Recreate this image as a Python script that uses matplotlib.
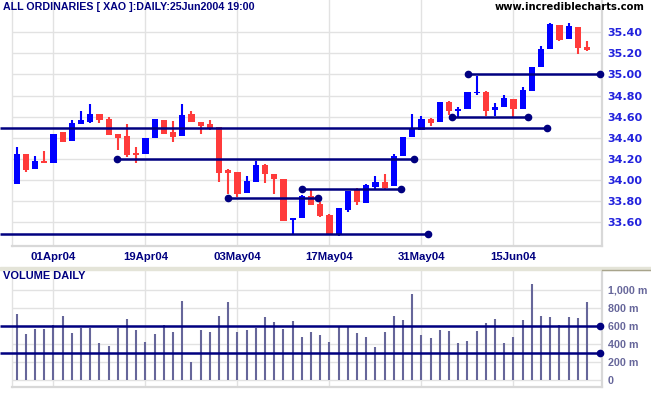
import numpy as np
import matplotlib.pyplot as plt

# daily OHLC, 26 Mar 2004 .. 25 Jun 2004 (trading days)
opens = [33.96, 34.25, 34.10, 34.18, 34.16, 34.45, 34.37, 34.53, 34.55, 34.63,
         34.58, 34.44, 34.42, 34.26, 34.25, 34.40, 34.57, 34.45, 34.42, 34.63,
         34.55, 34.53, 34.50, 34.09, 34.08, 33.88, 33.98, 34.14, 34.06, 34.01,
         33.62, 33.64, 33.85, 33.77, 33.67, 33.48, 33.72, 33.91, 33.78, 33.93,
         33.98, 33.94, 34.23, 34.41, 34.47, 34.58, 34.55, 34.74, 34.65, 34.67,
         34.82, 34.83, 34.66, 34.69, 34.77, 34.67, 34.84, 35.07, 35.24, 35.47,
         35.34, 35.45, 35.26]
highs = [34.31, 34.25, 34.23, 34.27, 34.44, 34.45, 34.57, 34.65, 34.72, 34.63,
         34.60, 34.44, 34.53, 34.31, 34.40, 34.58, 34.57, 34.56, 34.72, 34.65,
         34.55, 34.57, 34.50, 34.10, 34.08, 34.04, 34.18, 34.15, 34.06, 34.01,
         33.63, 33.86, 33.91, 33.79, 33.68, 33.73, 33.90, 33.92, 33.96, 34.04,
         34.06, 34.25, 34.41, 34.63, 34.61, 34.59, 34.74, 34.75, 34.69, 34.83,
         34.99, 34.84, 34.73, 34.81, 34.77, 34.88, 35.07, 35.27, 35.49, 35.47,
         35.49, 35.45, 35.32]
lows = [33.96, 34.08, 34.10, 34.16, 34.16, 34.36, 34.37, 34.53, 34.54, 34.54,
        34.43, 34.28, 34.22, 34.16, 34.25, 34.40, 34.44, 34.36, 34.42, 34.55,
        34.44, 34.47, 33.98, 33.87, 33.84, 33.88, 33.98, 33.97, 33.87, 33.61,
        33.49, 33.64, 33.76, 33.65, 33.49, 33.47, 33.70, 33.76, 33.78, 33.91,
        33.91, 33.94, 34.23, 34.41, 34.47, 34.51, 34.55, 34.62, 34.60, 34.67,
        34.81, 34.61, 34.61, 34.69, 34.59, 34.67, 34.84, 35.07, 35.24, 35.32,
        35.34, 35.19, 35.22]
closes = [34.25, 34.09, 34.18, 34.16, 34.44, 34.36, 34.54, 34.57, 34.63, 34.57,
          34.43, 34.40, 34.24, 34.24, 34.40, 34.58, 34.44, 34.41, 34.62, 34.55,
          34.51, 34.49, 34.07, 34.07, 33.87, 33.99, 34.14, 34.06, 34.01, 33.61,
          33.63, 33.85, 33.76, 33.66, 33.49, 33.73, 33.90, 33.79, 33.95, 33.98,
          33.92, 34.23, 34.41, 34.48, 34.58, 34.54, 34.74, 34.65, 34.67, 34.83,
          34.83, 34.65, 34.69, 34.78, 34.67, 34.85, 35.07, 35.24, 35.48, 35.33,
          35.46, 35.25, 35.23]
# volume in millions
volume = [728, 506, 561, 561, 610, 706, 517, 572, 572, 406,
          372, 572, 672, 550, 417, 506, 606, 531, 872, 194,
          550, 528, 706, 861, 528, 550, 572, 694, 639, 561,
          650, 472, 528, 494, 420, 583, 583, 517, 472, 361,
          528, 706, 661, 950, 494, 461, 550, 539, 406, 428,
          539, 628, 672, 406, 472, 661, 1061, 706, 694, 606,
          694, 683, 861]

tick_idx = [4, 14, 24, 34, 44, 54]
tick_labels = ['01Apr04', '19Apr04', '03May04', '17May04', '31May04', '15Jun04']
price_ticks = [33.6, 33.8, 34.0, 34.2, 34.4, 34.6, 34.8, 35.0, 35.2, 35.4]
vol_ticks = [0, 200, 400, 600, 800, 1000]
vol_tick_labels = ['0', '200 m', '400 m', '600 m', '800 m', '1,000 m']

# support / resistance lines drawn on the chart
sr_level = [34.49, 34.20, 33.83, 33.91, 33.49, 34.60, 35.00]
sr_start = [-1.8, 10.9, 23.0, 31.0, -1.8, 47.3, 49.1]
sr_end = [57.6, 43.2, 32.8, 41.8, 44.7, 55.6, 63.4]
sr_dot_left = [False, True, True, True, False, True, True]
vol_level = [600, 295]

NAVY = '#000080'
UP = '#0000ff'
DOWN = '#ff3b3b'
GRID = '#e2e2e2'
FRAME = '#d8d8d8'

plt.rcParams['font.family'] = ['Liberation Sans', 'DejaVu Sans']

W, H = 651, 395
fig = plt.figure(figsize=(W / 100, H / 100), dpi=100)
fig.patch.set_facecolor('white')

ax = fig.add_axes([12 / W, 1 - 246 / H, 590 / W, 246 / H])
ax2 = fig.add_axes([12 / W, 1 - 387 / H, 590 / W, 117 / H])

x = np.arange(len(opens))
o = np.array(opens)
c = np.array(closes)
col = [UP if cc >= oo else DOWN for oo, cc in zip(o, c)]

for a in (ax, ax2):
    a.set_xlim(-0.51, 63.62)
    a.set_facecolor('white')
    a.spines['top'].set_visible(False)
    a.spines['left'].set_color(GRID)
    a.spines['left'].set_linewidth(1)
    a.spines['right'].set_color(FRAME)
    a.spines['right'].set_linewidth(1.6)
    a.spines['bottom'].set_color(FRAME)
    a.spines['bottom'].set_linewidth(1.6)
    a.yaxis.tick_right()
    a.tick_params(axis='both', length=0)
    for t in tick_idx:
        a.axvline(t, color=GRID, lw=1, zorder=0)

# price panel
ax.set_ylim(33.374, 35.706)
for p in price_ticks:
    ax.axhline(p, color=GRID, lw=1, zorder=0)
ax.set_yticks(price_ticks)
ax.set_yticklabels(['%.2f' % p for p in price_ticks])
ax.tick_params(axis='y', pad=4, labelcolor='#2222dd')
for lab in ax.get_yticklabels():
    lab.set_fontweight('bold')
    lab.set_fontfamily('DejaVu Sans')
    lab.set_fontsize(8)
ax.set_xticks(tick_idx)
ax.set_xticklabels(tick_labels)
ax.tick_params(axis='x', pad=4, labelsize=8.2, labelcolor=NAVY)
for lab in ax.get_xticklabels():
    lab.set_fontweight('bold')

ax.vlines(x, lows, highs, colors=col, lw=1.5, zorder=3)
body_bottom = np.minimum(o, c)
body_h = np.maximum(np.abs(c - o), 0.018)
ax.bar(x, body_h, bottom=body_bottom, width=0.66, color=col, zorder=4)

for lev, x0, x1, dl in zip(sr_level, sr_start, sr_end, sr_dot_left):
    ax.plot([x0, x1], [lev, lev], color=NAVY, lw=1.8, zorder=5,
            clip_on=False, solid_capstyle='butt')
    ax.plot([x1], [lev], 'o', color=NAVY, ms=4.5, zorder=6, clip_on=False)
    if dl:
        ax.plot([x0], [lev], 'o', color=NAVY, ms=4.5, zorder=6, clip_on=False)

# volume panel
ax2.set_ylim(-83, 1217)
for v in vol_ticks:
    ax2.axhline(v, color=GRID, lw=1, zorder=0)
ax2.set_yticks(vol_ticks)
ax2.set_yticklabels(vol_tick_labels)
ax2.tick_params(axis='y', pad=4, labelsize=7.7, labelcolor='#66669a')
for lab in ax2.get_yticklabels():
    lab.set_fontweight('bold')
ax2.set_xticks([])
ax2.vlines(x, 0, volume, colors='#66669a', lw=1.5, zorder=3)
for lev in vol_level:
    ax2.plot([-1.8, 63.4], [lev, lev], color=NAVY, lw=1.8, zorder=5,
             clip_on=False, solid_capstyle='butt')
    ax2.plot([63.4], [lev], 'o', color=NAVY, ms=4.5, zorder=6, clip_on=False)

# separator band between panels
fig.patches.append(plt.Rectangle((0, 1 - 270 / H), 1, 3 / H, transform=fig.transFigure,
                                 color='#e4e4d8', zorder=0))
fig.add_artist(plt.Line2D([602 / W, 1], [1 - 269.5 / H, 1 - 269.5 / H],
                          transform=fig.transFigure, color='#a8a48c', lw=1))

fig.text(3 / W, 1 - 7 / H, 'ALL ORDINARIES [ XAO ]:DAILY:25Jun2004 19:00',
         color=NAVY, fontsize=7.7, fontweight='bold', va='center', ha='left')
fig.text(645 / W, 1 - 7 / H, 'www.incrediblecharts.com',
         color='black', fontsize=7.2, fontweight='bold', va='center', ha='right',
         family=['DejaVu Sans'])
fig.text(3 / W, 1 - 276 / H, 'VOLUME DAILY',
         color=NAVY, fontsize=7.9, fontweight='bold', va='center', ha='left')

fig.savefig('out.png', dpi=100)
